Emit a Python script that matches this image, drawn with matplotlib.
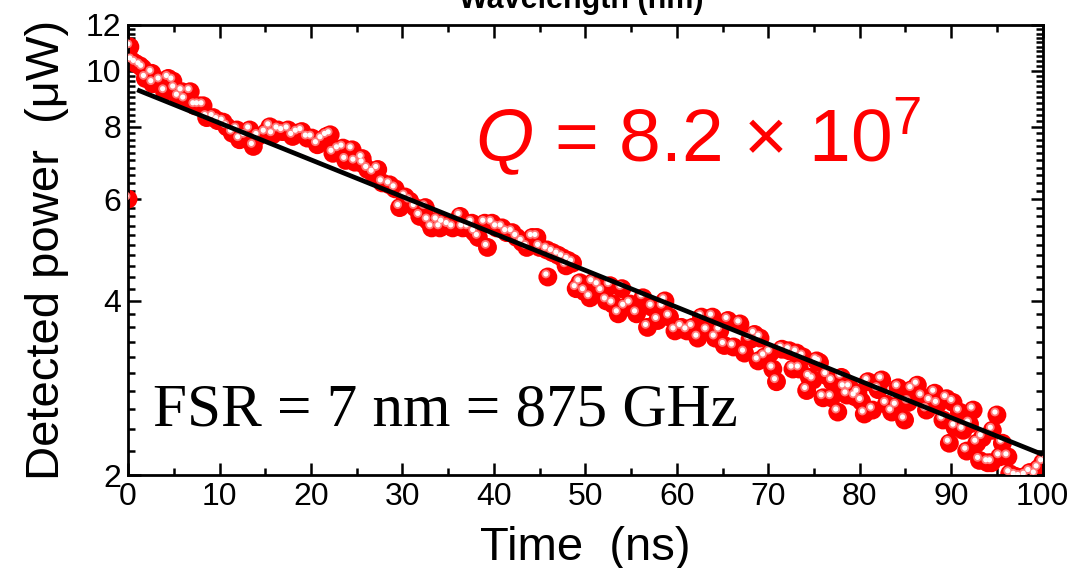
import matplotlib
matplotlib.use('Agg')
import matplotlib.pyplot as plt
from matplotlib import transforms
from matplotlib.ticker import FixedLocator, MultipleLocator, FormatStrFormatter, NullFormatter

plt.rcParams['font.family'] = ['Liberation Sans', 'DejaVu Sans']
plt.rcParams['mathtext.fontset'] = 'custom'
plt.rcParams['mathtext.rm'] = 'Liberation Sans'
plt.rcParams['mathtext.it'] = 'Liberation Sans:italic'

# ring-down trace (time in ns, detected power in uW)
time_ns = [0.0, 0.2, 0.4, 0.8, 1.3, 1.6, 1.9, 2.6, 2.7, 3.5, 4.0, 4.4, 4.9, 5.1, 5.5, 5.9,
           6.2, 6.8, 7.3, 7.7, 8.2, 8.6, 9.3, 9.8, 10.4, 10.8, 11.4, 11.9, 12.2, 12.8, 13.3,
           13.7, 14.2, 15.0, 15.5, 15.8, 16.4, 16.9, 17.5, 18.0, 18.5, 19.0, 19.6, 20.1,
           20.7, 21.2, 21.7, 22.1, 22.4, 23.0, 23.5, 23.8, 24.5, 24.8, 25.6, 25.7, 26.2,
           26.8, 27.3, 27.8, 28.6, 29.2, 29.7, 30.3, 30.8, 31.4, 31.9, 32.5, 32.8, 33.2,
           33.8, 34.1, 34.4, 35.0, 35.5, 36.3, 36.6, 37.2, 37.6, 37.9, 38.3, 39.0, 39.3,
           39.8, 40.3, 40.9, 41.4, 42.0, 42.5, 43.1, 43.6, 44.2, 44.7, 45.0, 45.8, 45.9,
           46.4, 47.0, 47.5, 47.9, 48.1, 48.6, 49.0, 49.4, 49.9, 50.5, 50.8, 51.4, 51.8,
           52.3, 52.7, 53.0, 53.6, 54.0, 54.3, 54.9, 55.6, 56.3, 56.8, 57.3, 57.9, 58.5,
           58.7, 59.2, 59.8, 60.5, 61.1, 61.7, 62.3, 62.7, 63.3, 63.9, 64.2, 64.7, 65.2,
           65.6, 66.2, 66.9, 67.4, 68.0, 68.5, 68.9, 69.1, 69.6, 70.2, 70.5, 70.9, 71.5,
           72.3, 72.7, 73.1, 73.4, 73.8, 74.2, 74.5, 74.9, 75.3, 75.6, 76.0, 76.4, 76.9,
           77.0, 77.6, 78.0, 78.3, 78.6, 78.9, 79.5, 79.8, 80.2, 80.5, 80.9, 81.4, 82.0,
           82.4, 82.9, 83.5, 84.0, 84.2, 84.9, 85.3, 85.7, 86.3, 86.8, 87.3, 87.7, 88.2,
           88.5, 89.1, 89.5, 89.8, 90.2, 90.4, 90.9, 91.3, 91.7, 92.0, 92.4, 92.8, 93.1,
           93.4, 94.0, 94.4, 94.5, 95.0, 95.3, 95.6, 96.2, 96.4, 97.0, 97.5, 98.1, 98.6,
           99.2, 99.5, 100.0]
power_uw = [6.0, 11.0, 10.4, 10.3, 10.2, 10.1, 9.7, 9.9, 9.5, 9.6, 9.2, 9.7, 9.6, 9.3, 9.0, 9.2,
            8.9, 9.2, 8.7, 8.7, 8.7, 8.3, 8.3, 8.2, 8.15, 8.0, 7.8, 7.9, 7.6, 7.7, 7.9,
            7.4, 7.7, 7.8, 8.0, 7.75, 7.9, 7.85, 7.9, 7.7, 7.8, 7.85, 7.65, 7.65,
            7.45, 7.6, 7.7, 7.75, 7.2, 7.3, 7.35, 7.0, 7.3, 6.95, 7.05, 6.9, 6.75,
            6.65, 6.75, 6.4, 6.35, 6.25, 5.8, 6.05, 5.95, 5.8, 5.6, 5.8, 5.5, 5.35,
            5.5, 5.35, 5.45, 5.4, 5.35, 5.6, 5.35, 5.35, 5.45, 5.25, 5.15, 5.45, 4.95,
            5.45, 5.35, 5.35, 5.25, 5.25, 5.15, 5.05, 4.95, 5.15, 5.15, 4.95, 4.9, 4.4,
            4.85, 4.8, 4.75, 4.6, 4.7, 4.65, 4.2, 4.3, 4.15, 4.05, 4.3, 4.25, 4.15,
            4.0, 4.25, 3.95, 3.8, 4.2, 3.9, 3.95, 3.8, 4.05, 3.6, 3.9, 3.7, 3.9,
            4.0, 3.75, 3.55, 3.6, 3.55, 3.6, 3.45, 3.75, 3.55, 3.75, 3.45, 3.55, 3.35,
            3.7, 3.33, 3.65, 3.25, 3.43, 3.5, 3.15, 3.45, 3.2, 3.25, 3.05, 2.9, 3.3,
            3.28, 3.05, 3.25, 3.05, 3.2, 2.8, 2.95, 2.92, 3.15, 3.13, 2.72, 2.97, 2.72,
            2.9, 2.57, 2.95, 2.83, 2.75, 2.83, 2.73, 2.77, 2.68, 2.55, 2.9, 2.59, 2.81,
            2.92, 2.65, 2.57, 2.63, 2.83, 2.49, 2.67, 2.81, 2.86, 2.73, 2.59, 2.68, 2.77,
            2.65, 2.49, 2.71, 2.27, 2.67, 2.42, 2.57, 2.39, 2.2, 2.45, 2.59, 2.27, 2.12,
            2.32, 2.1, 2.1, 2.39, 2.54, 2.15, 2.27, 2.15, 2.01, 1.99, 1.98, 1.99, 2.02,
            2.0, 2.05, 2.1]

# exponential fit, straight on the log axis
fit_t = [1.0, 100.0]
fit_p = [9.27, 2.17]

x_ticks = [0, 10, 20, 30, 40, 50, 60, 70, 80, 90, 100]
y_ticks = [2, 4, 6, 8, 10, 12]

fig = plt.figure(figsize=(10.76, 5.68), dpi=100)
ax = fig.add_axes([0.119, 0.1637, 0.850, 0.7923])

# shaded "ball" markers: red body plus a highlight nudged up-left
hl = transforms.offset_copy(ax.transData, fig=fig, x=-2, y=3, units='dots')
ax.scatter(time_ns, power_uw, s=185, color='#ff0000', edgecolors='none', zorder=2)
ax.scatter(time_ns, power_uw, s=40, color='#ff7878', edgecolors='none', zorder=3, transform=hl)
ax.scatter(time_ns, power_uw, s=14, color='white', edgecolors='none', zorder=4, transform=hl)

ax.plot(fit_t, fit_p, color='black', lw=3.4, zorder=5, solid_capstyle='butt')

ax.set_yscale('log')
ax.set_xlim(0, 100)
ax.set_ylim(2, 12)

ax.xaxis.set_major_locator(FixedLocator(x_ticks))
ax.xaxis.set_minor_locator(MultipleLocator(5))
ax.yaxis.set_major_locator(FixedLocator(y_ticks))
ax.yaxis.set_major_formatter(FormatStrFormatter('%d'))
ax.yaxis.set_minor_locator(MultipleLocator(0.2))
ax.yaxis.set_minor_formatter(NullFormatter())

ax.tick_params(which='both', direction='in', top=True, right=True, width=1.8)
ax.tick_params(which='major', length=9, labelsize=23, pad=5)
ax.tick_params(which='minor', length=5)
for sp in ax.spines.values():
    sp.set_linewidth(2)

ax.set_xlabel('Time  (ns)', fontsize=34, labelpad=10)
ax.set_ylabel('Detected power  (\u03bcW)', fontsize=34, labelpad=12)

ax.text(0.379, 0.696, r'$Q$ = 8.2 × $10^7$', transform=ax.transAxes,
        color='#ff0000', fontsize=54, va='baseline', ha='left')
ax.text(0.027, 0.109, 'FSR = 7 nm = 875 GHz', transform=ax.transAxes,
        family='Liberation Serif', fontsize=44, va='baseline', ha='left')

# axis title of the panel above, only its lower half shows
fig.text(0.54, 1.0, 'Wavelength (nm)', fontsize=22, fontweight='bold',
         ha='center', va='center')

fig.savefig('out.png', dpi=100)
